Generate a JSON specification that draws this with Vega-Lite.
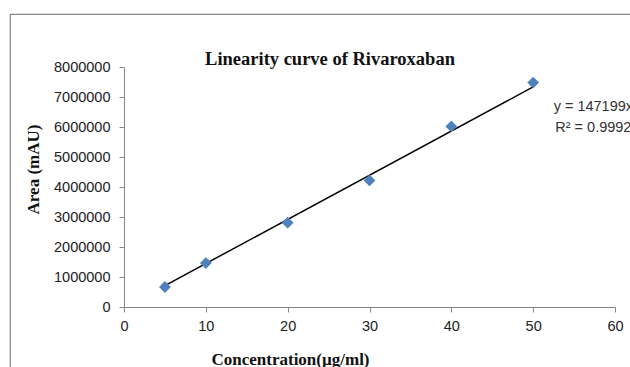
{
  "$schema": "https://vega.github.io/schema/vega-lite/v6.json",
  "autosize": {"type": "none"},
  "padding": {"left": 10, "top": 14, "right": 0, "bottom": 0},
  "width": 640,
  "height": 370,
  "background": "white",
  "config": {
    "view": {"stroke": "#868686", "strokeWidth": 1.2},
    "axis": {"grid": false, "domainColor": "#868686", "tickColor": "#868686", "labelFont": "Liberation Sans", "labelFontSize": 14.5, "labelColor": "#222222", "labelFlush": false, "titleFont": "Liberation Serif", "titleFontSize": 17, "titleFontWeight": "bold", "titleColor": "#111111", "tickSize": 5}
  },
  "title": {"text": "Linearity curve of Rivaroxaban", "font": "Liberation Serif", "fontSize": 18.5, "fontWeight": "bold", "color": "#111111", "anchor": "middle", "baseline": "top", "offset": 0, "dy": 54},
  "datasets": {
    "points": [
      {"conc": 5, "area": 666000},
      {"conc": 10, "area": 1465000},
      {"conc": 20, "area": 2810000},
      {"conc": 30, "area": 4220000},
      {"conc": 40, "area": 6020000},
      {"conc": 50, "area": 7480000}
    ],
    "trend": [
      {"conc": 5, "area": 712153},
      {"conc": 50, "area": 7336108}
    ],
    "notes": [
      {"conc": 52.5, "area": 6670000, "label": "y = 147199x - 23842"},
      {"conc": 52.7, "area": 5970000, "label": "R² = 0.9992"}
    ]
  },
  "layer": [
    {
      "data": {"name": "trend"},
      "mark": {"type": "line", "color": "#000000", "strokeWidth": 1.5},
      "encoding": {
        "x": {"field": "conc", "type": "quantitative", "scale": {"domain": [0, 60], "range": [114, 605]},
          "axis": {"values": [0, 10, 20, 30, 40, 50, 60], "offset": -77, "labelPadding": 7, "title": "Concentration(µg/ml)", "titleX": 280, "titleY": 57, "titleBaseline": "alphabetic", "titleAnchor": null}},
        "y": {"field": "area", "type": "quantitative", "scale": {"domain": [0, 8000000], "range": [293, 53]},
          "axis": {"values": [0, 1000000, 2000000, 3000000, 4000000, 5000000, 6000000, 7000000, 8000000], "format": "d", "offset": -114, "labelPadding": 9, "title": "Area (mAU)", "titleX": -91, "titleY": 155, "titleAngle": 270, "titleAlign": "center", "titleBaseline": "middle", "titleAnchor": null}}
      }
    },
    {
      "data": {"name": "points"},
      "mark": {"type": "point", "shape": "diamond", "filled": true, "color": "#4F81BD", "size": 140, "opacity": 1},
      "encoding": {
        "x": {"field": "conc", "type": "quantitative"},
        "y": {"field": "area", "type": "quantitative"}
      }
    },
    {
      "data": {"name": "notes"},
      "mark": {"type": "text", "align": "left", "baseline": "middle", "font": "Liberation Sans", "fontSize": 14.5, "color": "#333333"},
      "encoding": {
        "x": {"field": "conc", "type": "quantitative"},
        "y": {"field": "area", "type": "quantitative"},
        "text": {"field": "label"}
      }
    }
  ]
}
